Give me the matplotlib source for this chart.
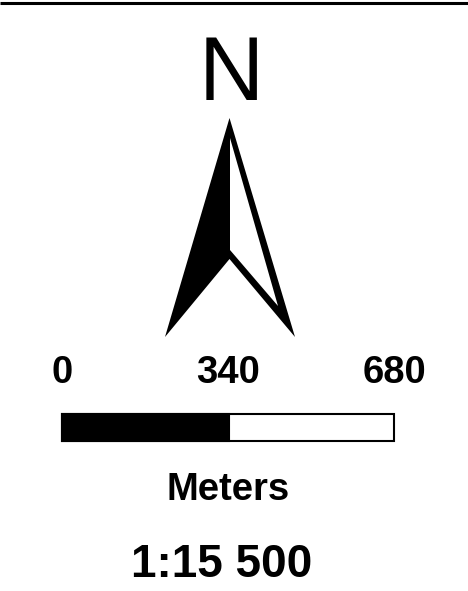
import matplotlib
matplotlib.use('Agg')
import matplotlib.pyplot as plt
from matplotlib.patches import Polygon, Rectangle

plt.rcParams['font.family'] = ['Liberation Sans', 'DejaVu Sans']

# scale bar
scale_ticks = [0, 340, 680]
scale_labels = ['0', '340', '680']
scale_unit = 'Meters'
scale_ratio = '1:15 500'
north_label = 'N'

W, H = 468, 591


def main():
    fig = plt.figure(figsize=(W / 100, H / 100), dpi=100)
    ax = fig.add_axes([0, 0, 1, 1])
    ax.set_xlim(0, W)
    ax.set_ylim(H, 0)
    ax.axis('off')

    # line at the top edge
    ax.plot([0, W], [2.5, 2.5], color='black', lw=2.2, solid_capstyle='butt')

    ax.text(231, 100, north_label, fontsize=65, ha='center', va='baseline', color='black')

    # arrow: black outline first, then the white inside of the right half
    ax.add_patch(Polygon([(229.5, 118), (295, 337), (229.5, 259), (165, 337)], closed=True,
                         facecolor='black', edgecolor='none'))
    ax.add_patch(Polygon([(230, 138), (278, 306), (230, 250)], closed=True,
                         facecolor='white', edgecolor='none'))

    # bar spans the tick values
    x0, x1 = 62, 394
    to_px = lambda v: x0 + (x1 - x0) * v / scale_ticks[-1]
    ax.add_patch(Rectangle((x0, 414), x1 - x0, 27, facecolor='white', edgecolor='black', lw=1.5))
    ax.add_patch(Rectangle((x0, 414), 229 - x0, 27, facecolor='black', edgecolor='black', lw=1.5))

    for v, lab in zip(scale_ticks, scale_labels):
        ax.text(to_px(v), 383, lab, fontsize=27.5, fontweight='bold', ha='center', va='baseline')

    ax.text(228, 500, scale_unit, fontsize=27.5, fontweight='bold', ha='center', va='baseline')
    ax.text(222, 577, scale_ratio, fontsize=33, fontweight='bold', ha='center', va='baseline')

    fig.savefig('out.png', dpi=100)


if __name__ == '__main__':
    main()
